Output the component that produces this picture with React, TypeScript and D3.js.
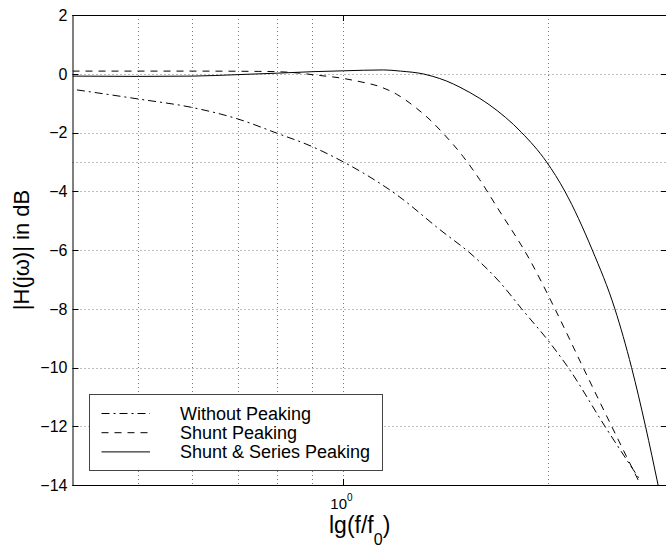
import { useMemo } from "react";
import * as d3 from "d3";

const WIDTH = 666;
const HEIGHT = 549;
const FONT = "'Liberation Sans', Arial, Helvetica, sans-serif";

// frequency (f/f0) and magnitude (dB)
const withoutF = [0.406, 0.5, 0.6, 0.7, 0.8, 0.9, 1.0, 1.198, 1.387, 1.552, 1.699, 1.828, 2.012, 2.14, 2.423, 2.728];
const withoutDb = [-0.55, -0.86, -1.15, -1.54, -2.03, -2.48, -3.0, -4.12, -5.31, -6.2, -7.1, -8.0, -9.16, -10.0, -12.0, -13.82];

const shuntF = [0.4, 0.6, 0.75, 0.8, 0.863, 0.9, 1.0, 1.058, 1.132, 1.198, 1.282, 1.341, 1.402, 1.5, 1.587, 1.68, 1.88, 2.046, 2.251, 2.479, 2.712];
const shuntDb = [0.09, 0.09, 0.08, 0.07, 0.02, -0.03, -0.16, -0.27, -0.44, -0.7, -1.18, -1.57, -2.03, -2.82, -3.61, -4.52, -6.34, -8.0, -10.0, -12.0, -13.83];

const seriesF = [0.4, 0.5, 0.6, 0.7, 0.8, 0.9, 1.0, 1.146, 1.213, 1.313, 1.354, 1.419, 1.484, 1.587, 1.642, 1.828, 1.989, 2.116, 2.322, 2.506, 2.652, 2.78, 2.901];
const seriesDb = [-0.08, -0.09, -0.08, -0.03, 0.02, 0.07, 0.1, 0.13, 0.09, -0.01, -0.09, -0.25, -0.46, -0.84, -1.07, -2.0, -3.0, -4.0, -6.0, -8.0, -10.0, -12.0, -14.0];

const yTicks = [2, 0, -2, -4, -6, -8, -10, -12, -14];
const yGrid = [0, -2, -3, -4, -6, -8, -10, -12];
const xGrid = [0.5, 0.6, 0.7, 0.8, 0.9, 1, 2];
const xMajor = [1];

const legendLabels = ["Without Peaking", "Shunt Peaking", "Shunt & Series Peaking"];
const dashes = ["8,4,2,4", "7,6", "none"];

const M = { left: 72.5, right: 668, top: 15, bottom: 485 };

function App() {
  const x = useMemo(
    () => d3.scaleLog().domain([0.4, 3]).range([M.left, M.right]),
    []
  );
  const y = useMemo(
    () => d3.scaleLinear().domain([-14, 2]).range([M.bottom, M.top]),
    []
  );

  const line = d3
    .line<[number, number]>()
    .x((d) => x(d[0]))
    .y((d) => y(d[1]))
    .curve(d3.curveMonotoneX);

  const series = [
    d3.zip(withoutF, withoutDb) as [number, number][],
    d3.zip(shuntF, shuntDb) as [number, number][],
    d3.zip(seriesF, seriesDb) as [number, number][],
  ];

  const minus = (v: number) => (v < 0 ? "\u2212" + Math.abs(v) : String(v));
  const right = 665.5;

  return (
    <svg
      width={WIDTH}
      height={HEIGHT}
      style={{ position: "absolute", left: 0, top: 0, background: "#fff" }}
      fontFamily={FONT}
    >
      <defs>
        <clipPath id="plot">
          <rect x={M.left} y={M.top} width={M.right - M.left} height={M.bottom - M.top} />
        </clipPath>
      </defs>

      {/* grid */}
      <g stroke="#7a7a7a" strokeWidth={1} strokeDasharray="1,3">
        {yGrid.map((v) => (
          <line key={"gy" + v} x1={M.left} x2={right} y1={Math.round(y(v)) + 0.5} y2={Math.round(y(v)) + 0.5} />
        ))}
        {xGrid.map((v) => (
          <line key={"gx" + v} x1={Math.round(x(v)) + 0.5} x2={Math.round(x(v)) + 0.5} y1={M.top} y2={M.bottom} />
        ))}
      </g>

      {/* curves */}
      <g clipPath="url(#plot)" fill="none" stroke="#000" strokeWidth={1}>
        {series.map((s, i) => (
          <path key={i} d={line(s) || ""} strokeDasharray={dashes[i]} />
        ))}
      </g>

      {/* axes box */}
      <g stroke="#000" strokeWidth={1}>
        <line x1={M.left} x2={WIDTH} y1={M.top + 0.5} y2={M.top + 0.5} />
        <line x1={M.left} x2={WIDTH} y1={M.bottom + 0.5} y2={M.bottom + 0.5} />
        <line x1={M.left + 0.5} x2={M.left + 0.5} y1={M.top} y2={M.bottom + 1} />
        {yTicks.map((v) => (
          <g key={"ty" + v}>
            <line x1={M.left} x2={M.left + 6} y1={Math.round(y(v)) + 0.5} y2={Math.round(y(v)) + 0.5} />
            <line x1={WIDTH - 5} x2={WIDTH} y1={Math.round(y(v)) + 0.5} y2={Math.round(y(v)) + 0.5} />
          </g>
        ))}
        {xMajor.map((v) => (
          <g key={"tx" + v}>
            <line x1={Math.round(x(v)) + 0.5} x2={Math.round(x(v)) + 0.5} y1={M.top} y2={M.top + 6} />
            <line x1={Math.round(x(v)) + 0.5} x2={Math.round(x(v)) + 0.5} y1={M.bottom - 6} y2={M.bottom} />
          </g>
        ))}
      </g>

      {/* y tick labels */}
      <g fontSize={16} textAnchor="end" fill="#000">
        {yTicks.map((v) => (
          <text key={"ly" + v} x={M.left - 5} y={y(v)} dy="0.36em">
            {minus(v)}
          </text>
        ))}
      </g>

      {/* x tick labels */}
      {xMajor.map((v) => (
        <text key={"lx" + v} x={x(v) - 13} y={509} fontSize={15} fill="#000">
          10
          <tspan fontSize={10} dy={-8}>0</tspan>
        </text>
      ))}

      {/* axis labels */}
      <text x={329} y={533} fontSize={23} fill="#000">
        lg(f/f
        <tspan fontSize={16} dy={12}>0</tspan>
        <tspan dy={-12}>)</tspan>
      </text>
      <text
        transform="translate(29,250) rotate(-90)"
        textAnchor="middle"
        fontSize={22}
        fill="#000"
      >
        |H(jω)| in dB
      </text>

      {/* legend */}
      <g>
        <rect x={89.5} y={394.5} width={293} height={76} fill="#fff" stroke="#444" strokeWidth={1} />
        {legendLabels.map((label, i) => {
          const ly = 413.5 + i * 19.2;
          return (
            <g key={label}>
              <line
                x1={101.5}
                x2={150}
                y1={ly}
                y2={ly}
                stroke="#000"
                strokeWidth={1}
                strokeDasharray={dashes[i]}
              />
              <text x={180} y={ly} dy="0.36em" fontSize={18} fill="#000">
                {label}
              </text>
            </g>
          );
        })}
      </g>
    </svg>
  );
}

export default App;
